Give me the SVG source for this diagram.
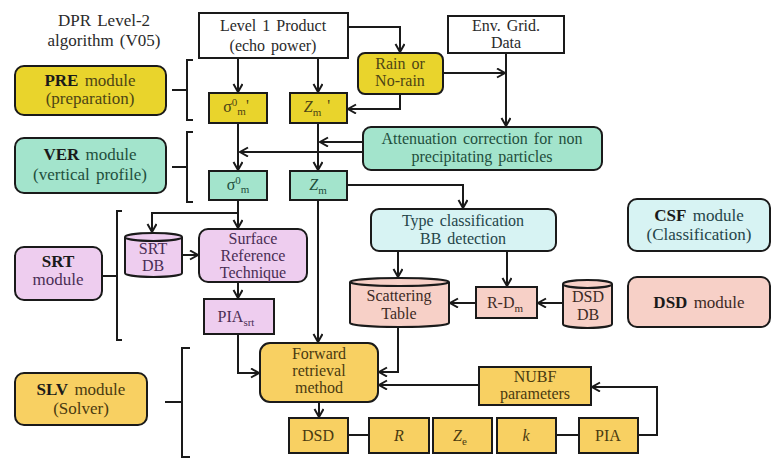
<svg xmlns="http://www.w3.org/2000/svg" width="781" height="462" viewBox="0 0 781 462">
<defs>
<marker id="ah" markerUnits="userSpaceOnUse" markerWidth="12" markerHeight="12" refX="9" refY="5" orient="auto">
<path d="M1,0.5 L9,5 L1,9.5" fill="none" stroke="#1a1a1a" stroke-width="2"/>
</marker>
</defs>
<style>
text{font-family:"Liberation Serif","Times New Roman",serif;font-size:16px;text-anchor:middle;fill:#2a2a2a;word-spacing:2px}
.t17{font-size:17px}
.b{font-weight:bold;fill:#1a1a1a}
.box{stroke:#1a1a1a;stroke-width:2}
.w{fill:#ffffff}
.yl{fill:#e9d42c}
.tl{fill:#a3e4cc}
.cy{fill:#d7f3f3}
.pk{fill:#eecdef}
.sa{fill:#f7d0c7}
.or{fill:#f8d062}
.ty{fill:#4d4515}
.tt{fill:#1f4f3c}
.tc{fill:#25454a}
.tp{fill:#4a2d55}
.ts{fill:#3d2a25}
.to{fill:#4a3a10}
.it{font-style:italic}
.sub{font-size:11px}
.con path{fill:none;stroke:#1a1a1a;stroke-width:2}
.br path{fill:none;stroke:#1a1a1a;stroke-width:2}
</style>
<rect width="781" height="462" fill="#ffffff"/>

<g id="title">
<text class="t17" x="104" y="26" fill="#1a1a1a">DPR Level-2</text>
<text class="t17" x="104" y="46" fill="#1a1a1a">algorithm (V05)</text>
</g>

<g class="br" id="brackets">
<path d="M193,60 H187 V120 H193 M172,90 H187"/>
<path d="M193,132 H187 V202 H193 M172,167 H187"/>
<path d="M122,211 H117 V340 H122 M102,276 H117"/>
<path d="M190,348 H182 V457 H190 M165,402 H182"/>
</g>

<g class="con" id="connectors">
<path d="M238,58 V92" marker-end="url(#ah)"/>
<path d="M318,58 V92" marker-end="url(#ah)"/>
<path d="M348,27 H400 V52" marker-end="url(#ah)"/>
<path d="M400,94 V109 H348" marker-end="url(#ah)"/>
<path d="M443,73 H505" marker-end="url(#ah)"/>
<path d="M506,53 V126" marker-end="url(#ah)"/>
<path d="M363,142 H320" marker-end="url(#ah)"/>
<path d="M363,152 H240" marker-end="url(#ah)"/>
<path d="M238,123 V170" marker-end="url(#ah)"/>
<path d="M318,123 V170" marker-end="url(#ah)"/>
<path d="M347,185 H463 V208" marker-end="url(#ah)"/>
<path d="M238,200 V228" marker-end="url(#ah)"/>
<path d="M238,213 H152 V232" marker-end="url(#ah)"/>
<path d="M182,255 H198" marker-end="url(#ah)"/>
<path d="M238,282 V298" marker-end="url(#ah)"/>
<path d="M238,334 V373 H259" marker-end="url(#ah)"/>
<path d="M318,200 V342" marker-end="url(#ah)"/>
<path d="M398,251 V277" marker-end="url(#ah)"/>
<path d="M507,251 V286" marker-end="url(#ah)"/>
<path d="M563,303 H538" marker-end="url(#ah)"/>
<path d="M476,303 H450" marker-end="url(#ah)"/>
<path d="M398,327 V372 H379" marker-end="url(#ah)"/>
<path d="M479,385 H379" marker-end="url(#ah)"/>
<path d="M319,402 V417" marker-end="url(#ah)"/>
<path d="M348,435 H369"/>
<path d="M556,435 H579"/>
<path d="M638,435 H657 V387 H592" marker-end="url(#ah)"/>
</g>

<g id="level1">
<rect class="box w" x="199" y="13" width="149" height="45"/>
<text x="273" y="31">Level 1 Product</text>
<text x="273" y="51">(echo power)</text>
</g>

<g id="envgrid">
<rect class="box w" x="448" y="16" width="116" height="37"/>
<text x="506" y="31">Env. Grid.</text>
<text x="506" y="48">Data</text>
</g>

<g id="rain">
<rect class="box yl" x="358" y="53" width="85" height="41" rx="7"/>
<text class="ty" x="400" y="69">Rain or</text>
<text class="ty" x="400" y="86">No-rain</text>
</g>

<g id="pre-module">
<rect class="box yl" x="15" y="66" width="151" height="49" rx="9"/>
<text class="t17 ty" x="90" y="86"><tspan class="b">PRE</tspan> module</text>
<text class="t17 ty" x="90" y="104">(preparation)</text>
</g>

<g id="sigma-prime">
<rect class="box yl" x="209" y="93" width="58" height="30"/>
<text class="ty" x="236" y="112">σ<tspan class="sub" dy="-6">0</tspan><tspan class="sub" dy="9">m</tspan><tspan dy="-4">'</tspan></text>
</g>

<g id="zm-prime">
<rect class="box yl" x="290" y="93" width="57" height="30"/>
<text class="ty" x="317" y="112"><tspan class="it">Z</tspan><tspan class="sub" dy="4">m</tspan><tspan dy="-5"> '</tspan></text>
</g>

<g id="attenuation">
<rect class="box tl" x="363" y="127" width="239" height="43" rx="8"/>
<text class="tt" x="482" y="144">Attenuation correction for non</text>
<text class="tt" x="482" y="162">precipitating particles</text>
</g>

<g id="ver-module">
<rect class="box tl" x="15" y="138" width="151" height="55" rx="9"/>
<text class="t17 tt" x="90" y="160"><tspan class="b">VER</tspan> module</text>
<text class="t17 tt" x="90" y="180">(vertical profile)</text>
</g>

<g id="sigma-m">
<rect class="box tl" x="209" y="171" width="58" height="29"/>
<text class="tt" x="238" y="190">σ<tspan class="sub" dy="-6">0</tspan><tspan class="sub" dy="9">m</tspan></text>
</g>

<g id="zm">
<rect class="box tl" x="290" y="171" width="57" height="29"/>
<text class="tt" x="318" y="190"><tspan class="it">Z</tspan><tspan class="sub" dy="4">m</tspan></text>
</g>

<g id="type-class">
<rect class="box cy" x="371" y="209" width="185" height="42" rx="8"/>
<text class="tc" x="463" y="226">Type classification</text>
<text class="tc" x="463" y="244">BB detection</text>
</g>

<g id="csf-module">
<rect class="box cy" x="628" y="199" width="142" height="52" rx="9"/>
<text class="t17 tc" x="699" y="221"><tspan class="b">CSF</tspan> module</text>
<text class="t17 tc" x="699" y="240">(Classification)</text>
</g>

<g id="srt-db">
<path class="box pk" d="M125,237 V273 A28.5,4 0 0 0 182,273 V237 A28.5,4 0 0 0 125,237 Z"/>
<path d="M125,237 A28.5,4 0 0 0 182,237" fill="none" stroke="#1a1a1a" stroke-width="2"/>
<text class="tp" x="153" y="254">SRT</text>
<text class="tp" x="153" y="271">DB</text>
</g>

<g id="srt">
<rect class="box pk" x="199" y="229" width="108" height="53" rx="9"/>
<text class="tp" x="253" y="244">Surface</text>
<text class="tp" x="253" y="261">Reference</text>
<text class="tp" x="253" y="278">Technique</text>
</g>

<g id="srt-module">
<rect class="box pk" x="15" y="247" width="87" height="53" rx="9"/>
<text class="t17 tp" x="58" y="267"><tspan class="b">SRT</tspan></text>
<text class="t17 tp" x="58" y="285">module</text>
</g>

<g id="pia-srt">
<rect class="box pk" x="204" y="299" width="70" height="35"/>
<text class="tp" x="236" y="322">PIA<tspan class="sub" dy="4">srt</tspan></text>
</g>

<g id="scattering">
<path class="box sa" d="M350,282 V323 A49.5,4 0 0 0 449,323 V282 A49.5,4 0 0 0 350,282 Z"/>
<path d="M350,282 A49.5,4 0 0 0 449,282" fill="none" stroke="#1a1a1a" stroke-width="2"/>
<text class="ts" x="399" y="301">Scattering</text>
<text class="ts" x="399" y="319">Table</text>
</g>

<g id="rdm">
<rect class="box sa" x="476" y="287" width="61" height="31"/>
<text class="ts" x="505" y="308">R-D<tspan class="sub" dy="4">m</tspan></text>
</g>

<g id="dsd-db">
<path class="box sa" d="M563,284 V324 A24.5,4 0 0 0 612,324 V284 A24.5,4 0 0 0 563,284 Z"/>
<path d="M563,284 A24.5,4 0 0 0 612,284" fill="none" stroke="#1a1a1a" stroke-width="2"/>
<text class="ts" x="588" y="302">DSD</text>
<text class="ts" x="588" y="320">DB</text>
</g>

<g id="dsd-module">
<rect class="box sa" x="628" y="277" width="142" height="50" rx="9"/>
<text class="t17 ts" x="699" y="308"><tspan class="b">DSD</tspan> module</text>
</g>

<g id="forward">
<rect class="box or" x="260" y="343" width="118" height="59" rx="10"/>
<text class="to" x="319" y="359">Forward</text>
<text class="to" x="319" y="376">retrieval</text>
<text class="to" x="319" y="393">method</text>
</g>

<g id="nubf">
<rect class="box or" x="479" y="367" width="112" height="38"/>
<text class="to" x="535" y="382">NUBF</text>
<text class="to" x="535" y="399">parameters</text>
</g>

<g id="slv-module">
<rect class="box or" x="15" y="373" width="132" height="52" rx="9"/>
<text class="t17 to" x="81" y="395"><tspan class="b">SLV</tspan> module</text>
<text class="t17 to" x="81" y="414">(Solver)</text>
</g>

<g id="dsd">
<rect class="box or" x="289" y="418" width="59" height="35"/>
<text class="to" x="318" y="441">DSD</text>
</g>
<g id="r">
<rect class="box or" x="369" y="418" width="60" height="35"/>
<text class="to it" x="399" y="441">R</text>
</g>
<g id="ze">
<rect class="box or" x="433" y="418" width="59" height="35"/>
<text class="to" x="460" y="441"><tspan class="it">Z</tspan><tspan class="sub" dy="4">e</tspan></text>
</g>
<g id="k">
<rect class="box or" x="497" y="418" width="59" height="35"/>
<text class="to it" x="526" y="441">k</text>
</g>
<g id="pia">
<rect class="box or" x="579" y="418" width="59" height="35"/>
<text class="to" x="608" y="441">PIA</text>
</g>
</svg>
